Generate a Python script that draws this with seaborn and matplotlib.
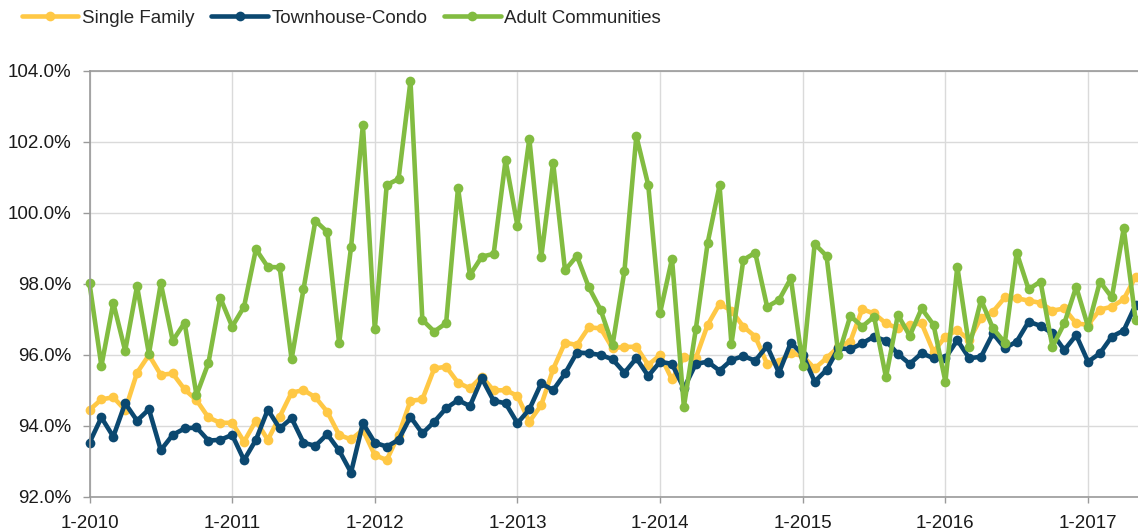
import pandas as pd
import matplotlib
matplotlib.use("Agg")
import matplotlib.pyplot as plt
import seaborn as sns
from matplotlib.ticker import FuncFormatter

months = pd.date_range("2010-01-01", periods=89, freq="MS")

single_family = [94.45, 94.75, 94.81, 94.45, 95.50, 96.00, 95.44, 95.48, 95.03, 94.73, 94.24, 94.09,
                 94.09, 93.56, 94.15, 93.61, 94.26, 94.94, 95.01, 94.81, 94.40, 93.75, 93.62, 93.89,
                 93.18, 93.04, 93.75, 94.71, 94.75, 95.62, 95.67, 95.22, 95.06, 95.39, 95.00, 95.01,
                 94.85, 94.12, 94.59, 95.60, 96.35, 96.28, 96.78, 96.75, 96.19, 96.23, 96.23, 95.72,
                 96.00, 95.31, 95.95, 95.91, 96.85, 97.44, 97.25, 96.80, 96.52, 95.75, 95.81, 96.05,
                 95.97, 95.62, 95.91, 96.23, 96.38, 97.29, 97.17, 96.89, 96.75, 96.85, 96.89, 96.09,
                 96.52, 96.70, 96.42, 97.05, 97.22, 97.62, 97.60, 97.53, 97.47, 97.25, 97.31, 96.89,
                 96.85, 97.28, 97.36, 97.57, 98.21]

townhouse_condo = [93.53, 94.24, 93.70, 94.64, 94.15, 94.47, 93.32, 93.75, 93.93, 93.96, 93.59, 93.61,
                   93.75, 93.04, 93.61, 94.46, 93.93, 94.22, 93.53, 93.44, 93.77, 93.31, 92.69, 94.08,
                   93.53, 93.42, 93.61, 94.26, 93.79, 94.12, 94.50, 94.73, 94.56, 95.34, 94.71, 94.64,
                   94.08, 94.47, 95.20, 95.01, 95.48, 96.07, 96.05, 96.00, 95.88, 95.50, 95.91, 95.41,
                   95.81, 95.75, 95.06, 95.75, 95.81, 95.56, 95.86, 95.97, 95.84, 96.25, 95.50, 96.35,
                   96.01, 95.25, 95.58, 96.19, 96.16, 96.33, 96.52, 96.40, 96.03, 95.75, 96.05, 95.91,
                   95.91, 96.42, 95.91, 95.95, 96.61, 96.19, 96.38, 96.94, 96.82, 96.61, 96.14, 96.56,
                   95.81, 96.05, 96.52, 96.69, 97.41]

adult_communities = [98.02, 95.69, 97.47, 96.12, 97.94, 96.03, 98.02, 96.40, 96.91, 94.87, 95.77, 97.61,
                     96.80, 97.36, 98.98, 98.48, 98.47, 95.88, 97.85, 99.78, 99.47, 96.33, 99.03, 102.48,
                     96.72, 100.79, 100.96, 103.72, 96.99, 96.66, 96.90, 100.71, 98.25, 98.77, 98.85, 101.49,
                     99.64, 102.09, 98.75, 101.42, 98.39, 98.79, 97.91, 97.27, 96.28, 98.37, 102.17, 100.79,
                     97.19, 98.71, 94.54, 96.72, 99.16, 100.78, 96.31, 98.68, 98.88, 97.36, 97.55, 98.16,
                     95.70, 99.13, 98.79, 96.00, 97.10, 96.80, 97.08, 95.37, 97.13, 96.54, 97.31, 96.85,
                     95.25, 98.49, 96.23, 97.55, 96.75, 96.35, 98.88, 97.85, 98.07, 96.23, 96.89, 97.92,
                     96.80, 98.07, 97.62, 99.57, 96.99]

series_names = ["Single Family", "Townhouse-Condo", "Adult Communities"]
colors = {"Single Family": "#FFC845", "Townhouse-Condo": "#0B4870", "Adult Communities": "#82BC41"}

frames = []
for name, vals in zip(series_names, [single_family, townhouse_condo, adult_communities]):
    frames.append(pd.DataFrame({"m": range(len(months)), "value": vals, "series": name}))
df = pd.concat(frames, ignore_index=True)

sns.set_theme(style="white")
plt.rcParams["font.family"] = ["Liberation Sans", "DejaVu Sans"]

fig = plt.figure(figsize=(11.38, 5.32), dpi=100)
ax = fig.add_axes([89.5 / 1138, 35 / 532, 1 - 89.5 / 1138, 426 / 532])

sns.lineplot(data=df, x="m", y="value", hue="series", hue_order=series_names,
             palette=colors, marker="o", markersize=7, markeredgewidth=0,
             linewidth=3.3, ax=ax, legend=True)
for line in ax.lines:
    line.set_clip_on(False)

ax.set_xlim(0, 88.2)
ax.set_ylim(92, 104)
ax.set_yticks([92, 94, 96, 98, 100, 102, 104])
ax.yaxis.set_major_formatter(FuncFormatter(lambda v, p: f"{v:.1f}%"))
year_idx = [i for i, d in enumerate(months) if d.month == 1]
ax.set_xticks(year_idx)
ax.set_xticklabels([f"{months[i].month}-{months[i].year}" for i in year_idx])
ax.set_xlabel("")
ax.set_ylabel("")

ax.grid(True, color="#DADADA", linewidth=1)
ax.set_axisbelow(True)
for side in ["left", "bottom", "top"]:
    ax.spines[side].set_color("#9A9A9A")
    ax.spines[side].set_linewidth(1.2)
ax.spines["right"].set_visible(False)
ax.tick_params(axis="y", length=5, width=1, color="#9A9A9A", pad=8, labelsize=13.5, labelcolor="#1a1a1a")
ax.tick_params(axis="x", length=4, width=1, color="#9A9A9A", pad=9, labelsize=13.5, labelcolor="#1a1a1a")
ax.tick_params(left=True, bottom=True)

handles, labels = ax.get_legend_handles_labels()
ax.get_legend().remove()
fig.legend(handles, labels, loc="center left", bbox_to_anchor=(22 / 1138, 1 - 18 / 532),
           ncol=3, frameon=False, fontsize=13.5, handlelength=3.0, handletextpad=0.2,
           columnspacing=0.9, borderpad=0, borderaxespad=0)

fig.savefig("out.png", dpi=100)
